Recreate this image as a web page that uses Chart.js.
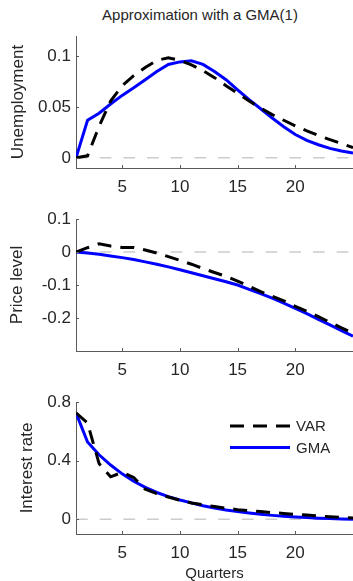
<!DOCTYPE html>
<html>
<head>
<meta charset="utf-8">
<script src="https://cdn.jsdelivr.net/npm/chart.js@4.4.1/dist/chart.umd.min.js"></script>
<style>
    html, body { margin: 0; padding: 0; background: #fff; }
    body { width: 353px; height: 581px; position: relative; overflow: hidden; font-family: 'Liberation Sans', Arial, sans-serif; }
    .panel { position: absolute; left: 0; }
    #title { position: absolute; top: 6px; left: 0; width: 400px; text-align: center; font-size: 15px; line-height: 18px; color: #262626; }
</style>
</head>
<body>
<div id="title">Approximation with a GMA(1)</div>
<canvas class="panel" id="unempChart" width="353" height="200" style="top:0px"></canvas>
<canvas class="panel" id="priceChart" width="353" height="200" style="top:183px"></canvas>
<canvas class="panel" id="rateChart" width="353" height="215" style="top:366px"></canvas>
<script>
// --- Data ---
const quarters = [1, 2, 3, 4, 5, 6, 7, 8, 9, 10, 11, 12, 13, 14, 15, 16, 17, 18, 19, 20, 21, 22, 23, 24, 25];
const xTicks = [5, 10, 15, 20];
const seriesLabels = ['VAR', 'GMA'];

const unempVAR = [0, 0.002, 0.031, 0.056, 0.071, 0.081, 0.089, 0.096, 0.0985, 0.096, 0.0915, 0.086, 0.079,
    0.071, 0.0635, 0.056, 0.049, 0.0426, 0.037, 0.0315, 0.0266, 0.022, 0.018, 0.014, 0.010];
const unempGMA = [0, 0.037, 0.044, 0.053, 0.0615, 0.069, 0.077, 0.085, 0.092, 0.0945, 0.0955, 0.092, 0.085,
    0.077, 0.067, 0.0574, 0.0484, 0.0392, 0.0307, 0.023, 0.0173, 0.0129, 0.0093, 0.0067, 0.0047];
const unempTicks = [0, 0.05, 0.1];

const priceVAR = [0, 0.013, 0.025, 0.018, 0.014, 0.014, 0.006, -0.003, -0.014, -0.025, -0.037, -0.05, -0.062,
    -0.074, -0.088, -0.104, -0.12, -0.134, -0.148, -0.165, -0.18, -0.196, -0.213, -0.23, -0.246];
const priceGMA = [0, -0.003, -0.007, -0.012, -0.017, -0.023, -0.03, -0.037, -0.045, -0.054, -0.063, -0.072, -0.081,
    -0.09, -0.1, -0.113, -0.126, -0.14, -0.155, -0.171, -0.187, -0.204, -0.221, -0.238, -0.255];
const priceTicks = [-0.2, -0.1, 0, 0.1];

const rateVAR = [0.726, 0.657, 0.38, 0.29, 0.32, 0.285, 0.205, 0.175, 0.152, 0.13, 0.112, 0.099, 0.087,
    0.076, 0.066, 0.059, 0.053, 0.046, 0.04, 0.034, 0.029, 0.023, 0.018, 0.013, 0.009];
const rateGMA = [0.726, 0.527, 0.44, 0.37, 0.31, 0.26, 0.218, 0.183, 0.155, 0.132, 0.112, 0.093, 0.077,
    0.064, 0.053, 0.043, 0.034, 0.027, 0.021, 0.016, 0.012, 0.008, 0.005, 0.003, 0.001];
const rateTicks = [0, 0.4, 0.8];

const zeroLevel = 0;

// --- Styles ---
const FONT = "'Liberation Sans', Arial, sans-serif";
const axisColor = '#5a5a5a';
const textColor = '#262626';
const varDash = [14, 9];

// Small tick marks pointing into the plot, MATLAB style
const innerTicks = {
    id: 'innerTicks',
    afterDraw(chart) {
        const { ctx, chartArea, scales } = chart;
        ctx.save();
        ctx.strokeStyle = axisColor;
        ctx.lineWidth = 1;
        ctx.beginPath();
        scales.x.ticks.forEach(t => {
            const px = Math.round(scales.x.getPixelForValue(t.value)) + 0.5;
            ctx.moveTo(px, chartArea.bottom);
            ctx.lineTo(px, chartArea.bottom - 3);
        });
        scales.y.ticks.forEach(t => {
            const py = Math.round(scales.y.getPixelForValue(t.value)) + 0.5;
            ctx.moveTo(chartArea.left, py);
            ctx.lineTo(chartArea.left + 3, py);
        });
        ctx.stroke();
        ctx.restore();
    }
};

// Legend drawn inside the plot area (bottom panel only)
const insideLegend = {
    id: 'insideLegend',
    afterDraw(chart) {
        const opts = chart.options.plugins.insideLegend;
        if (!opts || !opts.display) return;
        const { ctx, chartArea } = chart;
        const x0 = chartArea.left + 154, x1 = x0 + 60;
        ctx.save();
        ctx.font = '15px ' + FONT;
        ctx.textBaseline = 'middle';
        ctx.fillStyle = textColor;
        chart.data.datasets.slice(0, 2).forEach((ds, i) => {
            const y = chartArea.top + 24 + i * 21.5;
            ctx.strokeStyle = ds.borderColor;
            ctx.lineWidth = ds.borderWidth;
            ctx.setLineDash(ds.borderDash || []);
            ctx.beginPath();
            ctx.moveTo(x0, y);
            ctx.lineTo(x1, y);
            ctx.stroke();
            ctx.fillText(ds.label, x1 + 6, y + 1);
        });
        ctx.restore();
    }
};

function makePanel(id, varData, gmaData, yMin, yMax, yTicks, yTitle, titlePad, extra) {
    const canvas = document.getElementById(id);
    const H = canvas.height;
    const showQuarters = !!extra.quarters;
    return new Chart(canvas, {
        type: 'line',
        data: {
            datasets: [
                {
                    label: seriesLabels[0],
                    data: quarters.map((q, i) => ({ x: q, y: varData[i] })),
                    borderColor: '#000000',
                    borderWidth: 3,
                    borderDash: varDash,
                    pointRadius: 0,
                    tension: 0
                },
                {
                    label: seriesLabels[1],
                    data: quarters.map((q, i) => ({ x: q, y: gmaData[i] })),
                    borderColor: '#0000ff',
                    borderWidth: 3,
                    pointRadius: 0,
                    tension: 0
                },
                {
                    label: 'zero',
                    data: [{ x: quarters[0], y: zeroLevel }, { x: quarters[quarters.length - 1], y: zeroLevel }],
                    borderColor: '#cccccc',
                    borderWidth: 1.5,
                    borderDash: [11.7, 12],
                    pointRadius: 0
                }
            ]
        },
        options: {
            responsive: false,
            animation: false,
            layout: { padding: { top: 36, left: 0, right: 0, bottom: 0 } },
            plugins: {
                legend: { display: false },
                tooltip: { enabled: false },
                insideLegend: { display: !!extra.legend }
            },
            scales: {
                x: {
                    type: 'linear',
                    min: quarters[0],
                    max: quarters[quarters.length - 1],
                    afterBuildTicks: s => { s.ticks = xTicks.map(v => ({ value: v })); },
                    afterFit: s => { s.height = H - 36 - 132; },
                    grid: { display: false, drawTicks: false },
                    border: { display: true, color: axisColor, width: 1 },
                    ticks: { padding: 9, color: textColor, font: { size: 17, family: FONT } },
                    title: {
                        display: showQuarters,
                        text: 'Quarters',
                        color: textColor,
                        font: { size: 15, family: FONT, lineHeight: 1 },
                        padding: { top: 0, bottom: 0 }
                    }
                },
                y: {
                    min: yMin,
                    max: yMax,
                    afterBuildTicks: s => { s.ticks = yTicks.map(v => ({ value: v })); },
                    afterFit: s => { s.width = 76; },
                    grid: { display: false, drawTicks: false },
                    border: { display: true, color: axisColor, width: 1 },
                    ticks: {
                        padding: 5, color: textColor, font: { size: 17, family: FONT },
                        callback: v => String(v)
                    },
                    title: {
                        display: true,
                        text: yTitle,
                        color: textColor,
                        font: { size: 17, family: FONT },
                        padding: { top: titlePad, bottom: 0 }
                    }
                }
            }
        },
        plugins: [innerTicks, insideLegend]
    });
}

document.addEventListener('DOMContentLoaded', () => {
    makePanel('unempChart', unempVAR, unempGMA, -0.01, 0.12, unempTicks, 'Unemployment', 8, {});
    makePanel('priceChart', priceVAR, priceGMA, -0.3, 0.1, priceTicks, 'Price level', 7, {});
    makePanel('rateChart', rateVAR, rateGMA, -0.1, 0.8, rateTicks, 'Interest rate', 17, { legend: true, quarters: true });
});
</script>
</body>
</html>
